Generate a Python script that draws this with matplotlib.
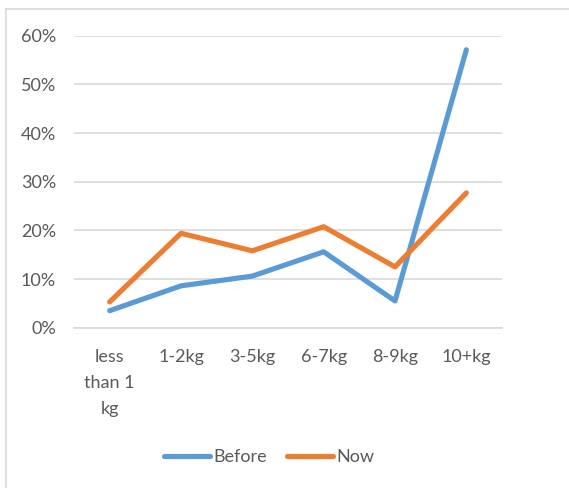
import matplotlib.pyplot as plt
from matplotlib.lines import Line2D
from matplotlib.ticker import PercentFormatter

# weight categories and share of respondents
categories = ["less\nthan 1\nkg", "1-2kg", "3-5kg", "6-7kg", "8-9kg", "10+kg"]
before = [0.035, 0.086, 0.106, 0.156, 0.055, 0.571]
now = [0.053, 0.194, 0.158, 0.2075, 0.125, 0.277]
y_ticks = [0, 0.1, 0.2, 0.3, 0.4, 0.5, 0.6]

blue = "#5B9BD5"
orange = "#ED7D31"
text_grey = "#595959"

plt.rcParams["font.family"] = ["Lato", "DejaVu Sans"]

fig = plt.figure(figsize=(5.69, 4.88), dpi=100)
W, H = 569, 488

# chart area border (left and top edges visible)
fig.add_artist(Line2D([6 / W, 6 / W], [0, 1 - 9 / H], transform=fig.transFigure,
                      color="#D9D9D9", lw=1.2))
fig.add_artist(Line2D([6 / W, 1], [1 - 9 / H, 1 - 9 / H], transform=fig.transFigure,
                      color="#D9D9D9", lw=1.2))

left, right = 74 / W, 502 / W
bottom, top = 1 - 327.7 / H, 1 - 35.7 / H
ax = fig.add_axes([left, bottom, right - left, top - bottom])

x = list(range(len(categories)))
ax.plot(x, before, color=blue, lw=3.7, label="Before", solid_capstyle="round",
        solid_joinstyle="round")
ax.plot(x, now, color=orange, lw=3.7, label="Now", solid_capstyle="round",
        solid_joinstyle="round")

ax.set_xlim(-0.5, len(categories) - 0.5)
ax.set_ylim(0, 0.6)
ax.set_yticks(y_ticks)
ax.yaxis.set_major_formatter(PercentFormatter(1.0, decimals=0))
ax.set_xticks(x)
ax.set_xticklabels(categories, linespacing=1.8)

ax.grid(axis="y", color="#D9D9D9", lw=1.2)
ax.set_axisbelow(True)
for s in ax.spines.values():
    s.set_visible(False)
ax.spines["bottom"].set_visible(True)
ax.spines["bottom"].set_color("#D9D9D9")
ax.spines["bottom"].set_linewidth(1.2)

ax.tick_params(axis="both", length=0, labelsize=13, labelcolor=text_grey)
ax.tick_params(axis="y", pad=13)
ax.tick_params(axis="x", pad=15)

leg = fig.legend(loc="center", bbox_to_anchor=(269 / W, 1 - 457 / H), ncol=2,
                 frameon=False, fontsize=13, handlelength=2.55,
                 handletextpad=0.2, columnspacing=1.1)
for t in leg.get_texts():
    t.set_color(text_grey)

fig.savefig("out.png", dpi=100)
